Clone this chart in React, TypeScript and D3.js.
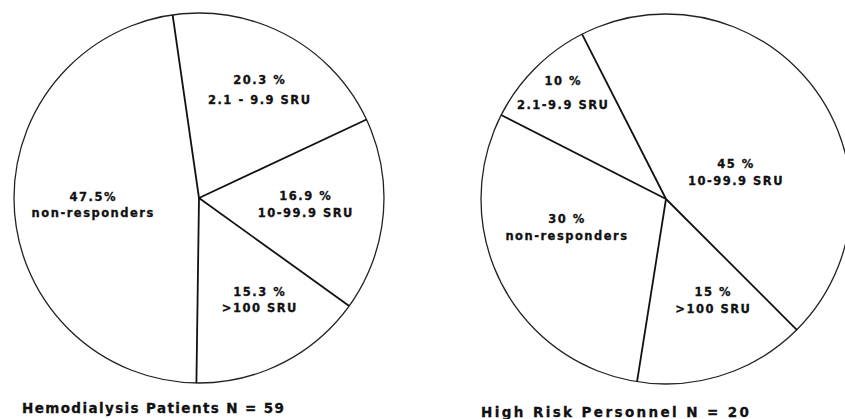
import React from 'react'
import * as d3 from 'd3'

// categories in clockwise order
const categories = ['2.1-9.9 SRU', '10-99.9 SRU', '>100 SRU', 'non-responders']

const leftValues = [20.3, 16.9, 15.3, 47.5]
const leftPct = ['20.3 %', '16.9 %', '15.3 %', '47.5%']
const leftNames = ['2.1 - 9.9 SRU', '10-99.9 SRU', '>100 SRU', 'non-responders']
const leftTitle = 'Hemodialysis Patients N = 59'

const rightValues = [10, 45, 15, 30]
const rightPct = ['10 %', '45 %', '15 %', '30 %']
const rightNames = ['2.1-9.9 SRU', '10-99.9 SRU', '>100 SRU', 'non-responders']
const rightTitle = 'High Risk Personnel N = 20'

type PieSpec = {
  values: number[]
  pct: string[]
  names: string[]
  title: string
  cx: number
  cy: number
  r: number
  start: number // degrees, clockwise from 12 o'clock
  labelR: number[]
  labelTurn: number[]
  lineGap: number[]
  titleX: number
  titleY: number
  titleW: number
}

const pies: PieSpec[] = [
  {
    values: leftValues,
    pct: leftPct,
    names: leftNames,
    title: leftTitle,
    cx: 199,
    cy: 198,
    r: 185,
    start: -8.2,
    labelR: [124, 107, 119, 106],
    labelTurn: [1, -2, -4, 0],
    lineGap: [20, 17, 16, 16],
    titleX: 22,
    titleY: 413,
    titleW: 262,
  },
  {
    values: rightValues,
    pct: rightPct,
    names: rightNames,
    title: rightTitle,
    cx: 666,
    cy: 199,
    r: 185,
    start: -63,
    labelR: [148, 75, 112, 103],
    labelTurn: [1, 15, -7, 11],
    lineGap: [24, 17, 17, 17],
    titleX: 481,
    titleY: 417,
    titleW: 268,
  },
]

const rad = Math.PI / 180

const Pie: React.FunctionComponent<{ spec: PieSpec }> = ({ spec }) => {
  const a0 = spec.start * rad
  const arcs = d3
    .pie<number>()
    .sort(null)
    .startAngle(a0)
    .endAngle(a0 + 2 * Math.PI)(spec.values)

  const circle = d3.arc<any>().innerRadius(0).outerRadius(spec.r)

  return (
    <g>
      <g transform={`translate(${spec.cx},${spec.cy})`}>
        {arcs.map((a, i) => (
          <path key={'s' + i} d={circle(a) || ''} fill="#fff" stroke="none" data-cat={categories[i]} />
        ))}
        <circle r={spec.r} fill="none" stroke="#222" strokeWidth={1.3} />
        {arcs.map((a, i) => (
          <line
            key={'l' + i}
            x1={0}
            y1={0}
            x2={spec.r * Math.sin(a.startAngle)}
            y2={-spec.r * Math.cos(a.startAngle)}
            stroke="#111"
            strokeWidth={1.8}
          />
        ))}
        {arcs.map((a, i) => {
          const mid = (a.startAngle + a.endAngle) / 2 + spec.labelTurn[i] * rad
          const lr = spec.labelR[i]
          const x = lr * Math.sin(mid)
          const y = -lr * Math.cos(mid)
          const g = spec.lineGap[i] / 2
          return (
            <g key={'t' + i} textAnchor="middle" fontFamily="'DejaVu Sans', sans-serif" fontWeight="bold" fontSize={11.5} letterSpacing={1.5} fill="#111" stroke="#111" strokeWidth={0.3}>
              <text x={x} y={y - g + 4}>{spec.pct[i]}</text>
              <text x={x} y={y + g + 4}>{spec.names[i]}</text>
            </g>
          )
        })}
      </g>
      <text
        x={spec.titleX}
        y={spec.titleY}
        textLength={spec.titleW}
        lengthAdjust="spacing"
        fontFamily="'DejaVu Sans', sans-serif"
        fontWeight="bold"
        fontSize={13.5}
        fill="#111"
        stroke="#111"
        strokeWidth={0.3}
      >
        {spec.title}
      </text>
    </g>
  )
}

const App: React.FunctionComponent = () => {
  return (
    <svg width={845} height={419} style={{ position: 'absolute', left: 0, top: 0, background: '#fff' }}>
      <rect width={845} height={419} fill="#fff" />
      {pies.map((p, i) => (
        <Pie key={i} spec={p} />
      ))}
    </svg>
  )
}

export default App
